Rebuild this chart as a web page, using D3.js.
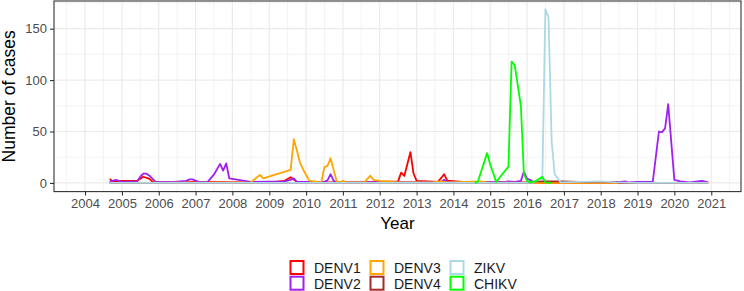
<!DOCTYPE html>
<html>
<head>
<meta charset="utf-8">
<script src="https://cdn.jsdelivr.net/npm/d3@7"></script>
<style>
  body { margin: 0; background: #fff; }
  text { font-family: "Liberation Sans", Arial, sans-serif; }
</style>
</head>
<body>
<svg id="chart"></svg>
<script>
// monthly case counts per virus
const serotypes = ["DENV1", "DENV2", "DENV3", "DENV4", "ZIKV", "CHIKV"];
const colors = ["#ff0000", "#a020f0", "#ffa500", "#a52a2a", "#add8e6", "#00ff00"];

const denv1Dates = ["2004-09","2004-10","2005-01","2005-06","2005-08","2005-10","2005-11","2006-06","2007-01","2008-06","2009-03","2009-06","2009-08","2009-10","2010-06","2011-06","2012-01","2012-07","2012-08","2012-09","2012-11","2012-12","2013-01","2013-08","2013-10","2013-11","2014-06","2015-06","2016-01","2016-06","2020-12"];
const denv1Cases = [4,1.5,2,2,6,4,1,0.5,1,0.5,1,2,5.5,1,0.5,0.5,1,1.5,10,6.8,30,9.4,2,1,8.5,2.2,0.5,0.5,0.5,0,0];

const denv2Dates = ["2004-09","2004-11","2005-01","2005-06","2005-07","2005-08","2005-09","2005-10","2005-11","2005-12",
  "2006-06","2006-10","2006-11","2006-12","2007-02","2007-05","2007-07","2007-09","2007-10","2007-11",
  "2007-12","2008-07","2009-06","2009-08","2009-09","2009-10","2010-07","2010-08","2010-09","2010-10",
  "2010-11","2013-09","2013-10","2013-11","2015-06","2015-07","2015-09","2015-11","2015-12","2016-01",
  "2016-02","2016-03","2016-06","2017-01","2018-01","2018-06","2018-09","2018-10","2019-01","2019-06",
  "2019-08","2019-09","2019-10","2019-11","2020-01","2020-03","2020-06","2020-10","2020-12"];
const denv2Cases = [1,3,1,1.5,6,9,9,7,4,1,
  1,2,3.5,3.5,1,1,8,18.5,12,19,
  4.5,1,1.5,3,4.5,1,1,2.5,8.5,2,
  0.5,1,3,1,1,1.5,1,2,11,4,
  3,1,0.5,1,0.5,0.5,1.5,0.5,1,1,
  50,49.4,53,76.6,3,1.5,0.5,2,0.5];

const denv3Dates = ["2004-09","2008-07","2008-10","2008-11","2009-08","2009-09","2009-10","2009-11","2009-12","2010-02",
  "2010-06","2010-07","2010-08","2010-09","2010-10","2010-11","2010-12","2011-01","2011-02","2011-08",
  "2011-10","2011-11","2012-01","2012-04","2012-07","2013-06","2013-09","2013-11","2014-10","2014-12",
  "2016-01","2020-12"];
const denv3Cases = [0,0.5,7.8,4.5,12.7,42.5,32,19.8,13.3,2.2,
  0.5,15.3,16.5,24,12.7,1.3,0.5,2,0.5,0.5,
  7,3,2,1.5,0.5,0.5,1.5,0.5,1.5,0.5,
  0,0];

const denv4Dates = ["2004-09","2016-03","2016-04","2016-12","2017-06","2018-06","2018-07","2020-12"];
const denv4Cases = [0,0,1.5,1.5,1,1,0,0];

const zikvDates = ["2004-09","2016-03","2016-04","2016-06","2016-07","2016-08","2016-09","2016-10","2016-12","2017-06","2018-01","2018-06","2019-01","2020-12"];
const zikvCases = [0,0,2,4,169,161,41,8.5,0.5,1,1.5,0.5,0,0];

const chikvDates = ["2014-08","2014-09","2014-12","2015-01","2015-03","2015-07","2015-08","2015-09","2015-11","2015-12","2016-01","2016-02","2016-04","2016-06","2016-07","2016-09"];
const chikvCases = [0,1.3,29,18,1,16,118,114.6,75,8.5,2,0.5,2,6,0.5,0];

const yTicks = [0, 50, 100, 150];
const yMinor = [25, 75, 125, 175];
const years = d3.range(2004, 2022);

const parse = d3.timeParse("%Y-%m");
const seriesDates = [denv1Dates, denv2Dates, denv3Dates, denv4Dates, zikvDates, chikvDates];
const seriesCases = [denv1Cases, denv2Cases, denv3Cases, denv4Cases, zikvCases, chikvCases];
const series = serotypes.map((name, i) => ({
  name: name,
  color: colors[i],
  values: seriesDates[i].map((d, j) => ({ date: parse(d), cases: seriesCases[i][j] }))
}));

const width = 744, height = 291;
const panel = { left: 54, right: 741, top: 1, bottom: 191.6 };

const svg = d3.select("#chart")
    .attr("width", width)
    .attr("height", height);

const x = d3.scaleTime()
    .domain([new Date(2003, 1, 27), new Date(2021, 9, 23)])
    .range([panel.left, panel.right]);

const y = d3.scaleLinear()
    .domain([-8.43, 176.9])
    .range([panel.bottom, panel.top]);

// grid
const grid = svg.append("g");
grid.selectAll(".minor-x")
    .data(d3.range(2003, 2022).map(yr => new Date(yr, 6, 2)))
    .enter().append("line")
    .attr("x1", d => x(d)).attr("x2", d => x(d))
    .attr("y1", panel.top).attr("y2", panel.bottom)
    .attr("stroke", "#ebebeb").attr("stroke-width", 0.6);
grid.selectAll(".minor-y")
    .data(yMinor)
    .enter().append("line")
    .attr("x1", panel.left).attr("x2", panel.right)
    .attr("y1", d => y(d)).attr("y2", d => y(d))
    .attr("stroke", "#ebebeb").attr("stroke-width", 0.6);
grid.selectAll(".major-x")
    .data(years.map(yr => new Date(yr, 0, 1)))
    .enter().append("line")
    .attr("x1", d => x(d)).attr("x2", d => x(d))
    .attr("y1", panel.top).attr("y2", panel.bottom)
    .attr("stroke", "#ebebeb").attr("stroke-width", 1.2);
grid.selectAll(".major-y")
    .data(yTicks)
    .enter().append("line")
    .attr("x1", panel.left).attr("x2", panel.right)
    .attr("y1", d => y(d)).attr("y2", d => y(d))
    .attr("stroke", "#ebebeb").attr("stroke-width", 1.2);

// lines
const line = d3.line()
    .x(d => x(d.date))
    .y(d => y(d.cases));

svg.selectAll(".series")
    .data(series)
    .enter().append("path")
    .attr("d", d => line(d.values))
    .attr("fill", "none")
    .attr("stroke", d => d.color)
    .attr("stroke-width", 1.8)
    .attr("stroke-linejoin", "round");

// panel border
svg.append("rect")
    .attr("x", panel.left).attr("y", panel.top)
    .attr("width", panel.right - panel.left)
    .attr("height", panel.bottom - panel.top)
    .attr("fill", "none")
    .attr("stroke", "#333333")
    .attr("stroke-width", 1.1);

// axes
const xAxis = svg.append("g")
    .attr("transform", `translate(0,${panel.bottom})`)
    .call(d3.axisBottom(x)
      .tickValues(years.map(yr => new Date(yr, 0, 1)))
      .tickFormat(d3.timeFormat("%Y"))
      .tickSize(4).tickPadding(3));

const yAxis = svg.append("g")
    .attr("transform", `translate(${panel.left},0)`)
    .call(d3.axisLeft(y).tickValues(yTicks).tickSize(4).tickPadding(3));

[xAxis, yAxis].forEach(g => {
  g.select(".domain").remove();
  g.selectAll(".tick line").attr("stroke", "#333333").attr("stroke-width", 1.1);
  g.selectAll(".tick text")
    .attr("fill", "#4d4d4d")
    .style("font-size", "13px")
    .style("font-family", "'Liberation Sans', Arial, sans-serif");
});

svg.append("text")
    .attr("x", (panel.left + panel.right) / 2)
    .attr("y", 229)
    .attr("text-anchor", "middle")
    .style("font-size", "17px")
    .text("Year");

svg.append("text")
    .attr("transform", `translate(15,${(panel.top + panel.bottom) / 2}) rotate(-90)`)
    .attr("text-anchor", "middle")
    .style("font-size", "17.5px")
    .text("Number of cases");

// legend, filled column by column
const legend = svg.append("g");
const colX = [289.5, 369.5, 449.5];
const rowY = [260, 275.7];
const item = legend.selectAll(".item")
    .data(series)
    .enter().append("g")
    .attr("transform", (d, i) => `translate(${colX[Math.floor(i / 2)]},${rowY[i % 2]})`);

item.append("rect")
    .attr("x", 1).attr("y", 1)
    .attr("width", 13).attr("height", 13)
    .attr("fill", "#fff")
    .attr("stroke", d => d.color)
    .attr("stroke-width", 2);

item.append("text")
    .attr("x", 24.5)
    .attr("y", 12.8)
    .style("font-size", "14px")
    .attr("fill", "#1a1a1a")
    .text(d => d.name);
</script>
</body>
</html>
